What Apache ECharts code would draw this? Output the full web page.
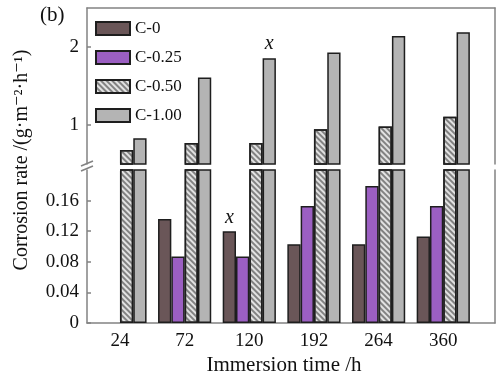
<!DOCTYPE html>
<html>
<head>
<meta charset="utf-8">
<script src="https://cdn.jsdelivr.net/npm/echarts@6/dist/echarts.min.js"></script>
<style>
  html, body { margin: 0; padding: 0; background: #fff; }
  #chart { width: 502px; height: 378px; }
</style>
</head>
<body>
<div id="chart"></div>
<script>
// 浸泡时间（类别）
const categories = ['24', '72', '120', '192', '264', '360'];
const seriesNames = ['C-0', 'C-0.25', 'C-0.50', 'C-1.00'];
// 腐蚀速率 g·m^-2·h^-1，null 表示该时间无数据
const c0   = [null, 0.136, 0.120, 0.103, 0.103, 0.113];
const c025 = [null, 0.087, 0.087, 0.153, 0.179, 0.153];
const c050 = [0.68, 0.77, 0.77, 0.945, 0.98, 1.107];
const c100 = [0.83, 1.61, 1.855, 1.93, 2.14, 2.19];
// 刻度
const upperTicks = [1, 2];
const lowerTicks = [0, 0.04, 0.08, 0.12, 0.16];
// 标 x 的数据点: [系列序号, 类别序号, 所在面板]
const crossMarks = [[0, 2, 'lower'], [3, 2, 'upper']];

const serif = 'Liberation Serif, DejaVu Serif, serif';
const axisGray = '#828282';
const allValues = [c0, c025, c050, c100];

const styles = [
    { color: '#6a5658' },
    { color: '#9b5fc2' },
    {
        color: '#e2e2e2',
        decal: {
            symbol: 'rect',
            symbolSize: 1,
            dashArrayX: [1, 0],
            dashArrayY: [2, 2],
            rotation: Math.PI / 4,
            color: 'rgba(90,90,90,0.7)'
        }
    },
    { color: '#b4b4b4' }
];

const chart = echarts.init(document.getElementById('chart'));

const makeData = (si, panel) => {
    const out = [];
    allValues[si].forEach((v, i) => {
        if (v == null) return;
        const mark = crossMarks.find(m => m[0] === si && m[1] === i && m[2] === panel);
        if (mark) {
            out.push({
                value: [i, v],
                label: {
                    show: true,
                    position: 'top',
                    distance: panel === 'upper' ? 5 : 3,
                    formatter: 'x',
                    fontFamily: serif,
                    fontStyle: 'italic',
                    fontSize: 20,
                    color: '#111'
                }
            });
        } else {
            out.push([i, v]);
        }
    });
    return out;
};

const series = [];
['upper', 'lower'].forEach((panel, pi) => {
    seriesNames.forEach((name, si) => {
        series.push({
            name: name,
            type: 'bar',
            xAxisIndex: pi,
            yAxisIndex: pi * 2,
            barWidth: 13.3,
            barGap: '0%',
            clip: true,
            itemStyle: Object.assign({ borderColor: '#1e1e1e', borderWidth: 1.5 }, styles[si]),
            emphasis: { disabled: true },
            data: makeData(si, panel)
        });
    });
});

const lineStyle = { color: axisGray, width: 1.5 };

const xBase = {
    type: 'value',
    min: -0.51,
    max: 5.8,
    splitLine: { show: false },
    axisLine: { show: true, onZero: false, lineStyle: lineStyle },
    axisTick: { show: false }
};

const yAxisOf = (grid, min, max, side, ticks) => ({
    gridIndex: grid, type: 'value', min: min, max: max, position: side,
    splitLine: { show: false },
    axisLine: { show: true, onZero: false, lineStyle: lineStyle },
    axisTick: ticks
        ? { show: true, inside: true, length: 4, customValues: ticks, lineStyle: lineStyle }
        : { show: false },
    axisLabel: ticks
        ? { customValues: ticks, fontFamily: serif, fontSize: 19, color: '#111', margin: 8 }
        : { show: false }
});

const option = {
    backgroundColor: '#fff',
    animation: false,
    legend: {
        data: seriesNames,
        icon: 'rect',
        orient: 'vertical',
        left: 90,
        top: 15,
        itemWidth: 34,
        itemHeight: 13,
        itemGap: 12,
        textStyle: { fontFamily: serif, fontSize: 17, color: '#111' }
    },
    grid: [
        { left: 87, right: 7, top: 8, height: 156 },
        { left: 87, right: 7, top: 170, height: 153 }
    ],
    xAxis: [
        Object.assign({}, xBase, { gridIndex: 0, position: 'top', axisLabel: { show: false } }),
        Object.assign({}, xBase, {
            gridIndex: 1,
            position: 'bottom',
            axisLabel: {
                customValues: categories.map((c, i) => i),
                formatter: v => categories[Math.round(v)],
                fontFamily: serif,
                fontSize: 19,
                color: '#111',
                margin: 9
            },
            name: 'Immersion time /h',
            nameLocation: 'middle',
            nameGap: 32,
            nameTextStyle: { fontFamily: serif, fontSize: 21, color: '#111', padding: [0, 0, 0, -14] }
        })
    ],
    yAxis: [
        yAxisOf(0, 0.5, 2.5, 'left', upperTicks),
        yAxisOf(0, 0.5, 2.5, 'right', null),
        yAxisOf(1, 0, 0.2, 'left', lowerTicks),
        yAxisOf(1, 0, 0.2, 'right', null)
    ],
    graphic: [
        {
            type: 'text', left: 40, top: 5,
            style: { text: '(b)', font: '21px ' + serif, fill: '#111' }
        },
        {
            type: 'text', x: 22, y: 160, rotation: Math.PI / 2,
            style: {
                text: 'Corrosion rate /(g·m⁻²·h⁻¹)',
                font: '20px ' + serif, fill: '#111',
                align: 'center', verticalAlign: 'middle'
            }
        },
        // 断轴标记
        {
            type: 'group',
            children: [
                { type: 'line', shape: { x1: 81, y1: 166, x2: 93, y2: 161 }, style: { stroke: axisGray, lineWidth: 1.5 } },
                { type: 'line', shape: { x1: 81, y1: 171, x2: 93, y2: 166 }, style: { stroke: axisGray, lineWidth: 1.5 } }
            ]
        }
    ],
    series: series
};

chart.setOption(option);
</script>
</body>
</html>
